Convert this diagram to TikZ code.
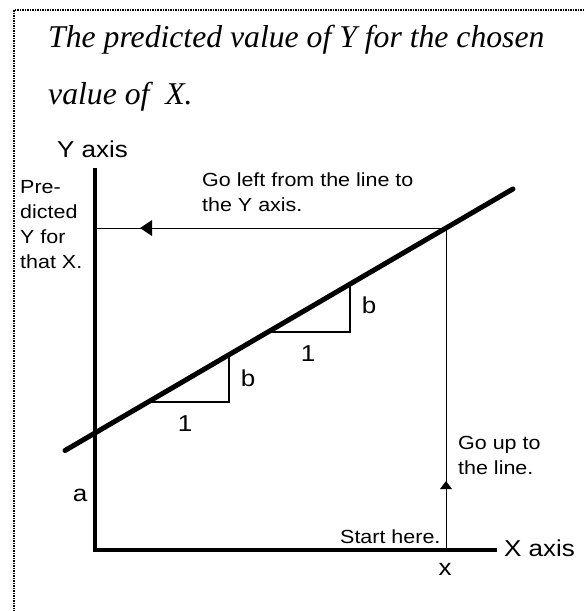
\documentclass[tikz,border=0pt]{standalone}
\usepackage{fontspec}
\setmainfont{Liberation Serif}
\setsansfont{Liberation Sans}
\newcommand{\sx}[1]{\scalebox{1.13}[1]{#1}}
\newcommand{\mlines}[1]{\sx{\begin{tabular}[t]{@{}l@{}}#1\end{tabular}}}
\begin{document}
\begin{tikzpicture}[x=1pt,y=-1pt,
  title/.style={anchor=base west,inner sep=0pt,font=\fontsize{31.7}{55}\selectfont\itshape},
  big/.style={inner sep=0pt,font=\sffamily\fontsize{23}{28}\selectfont},
  small/.style={anchor=base west,inner sep=0pt,font=\sffamily\fontsize{19}{25}\selectfont},
  axisline/.style={line width=4pt,line join=miter},
  regline/.style={line width=5pt,line cap=round},
  guide/.style={line width=1pt},
  tri/.style={line width=1.2pt},
  frame/.style={line width=1.5pt,dash pattern=on 1.5pt off 1pt}]
\useasboundingbox (0,0) rectangle (584,611);
% dotted frame (top and left only)
\draw[frame] (584,10) -- (14,10) -- (14,611);
% title
\node[title] (t1) at (48,47) {The predicted value of Y for the chosen};
\node[title] (t2) at (48,104) {value of~~X.};
% axes
\coordinate (O) at (95,550);
\coordinate (Ytop) at (95,168);
\coordinate (Xend) at (497,550);
\draw[axisline] (Ytop) -- (O) -- (Xend);
% guide lines
\coordinate (X0) at (446,550);
\coordinate (P) at (446,228);
\coordinate (Yp) at (95,228);
\draw[guide] (X0) -- (P) -- (Yp);
\fill (446,481) -- (452,489) -- (440,489) -- cycle;
\fill (140,228) -- (152,220) -- (152,236) -- cycle;
% regression line
\coordinate (L0) at (65,450.5);
\coordinate (L1) at (513,188.9);
\draw[regline] (L0) -- (L1);
% slope triangles
\draw[tri] (148,402) -- (229,402) -- (229,354.7);
\draw[tri] (268,332) -- (350,332) -- (350,284);
% labels
\node[big] (b1) at (248,378) {\sx{b}};
\node[big] (one1) at (185,424) {\sx{1}};
\node[big] (b2) at (369,305) {\sx{b}};
\node[big] (one2) at (308,354) {\sx{1}};
\node[big] (a) at (80,495) {\sx{a}};
\node[big] (x) at (445,569) {\sx{x}};
\node[big,anchor=base west] (yax) at (57,157) {\sx{Y axis}};
\node[big,anchor=base west] (xax) at (504,556) {\sx{X axis}};
\node[small] (pred) at (20,193) {\mlines{Pre-\\dicted\\Y for\\that X.}};
\node[small] (left) at (202,186) {\mlines{Go left from the line to\\the Y axis.}};
\node[small] (up) at (458,449) {\mlines{Go up to\\the line.}};
\node[small] (start) at (340,543) {\sx{Start here.}};
\end{tikzpicture}
\end{document}
